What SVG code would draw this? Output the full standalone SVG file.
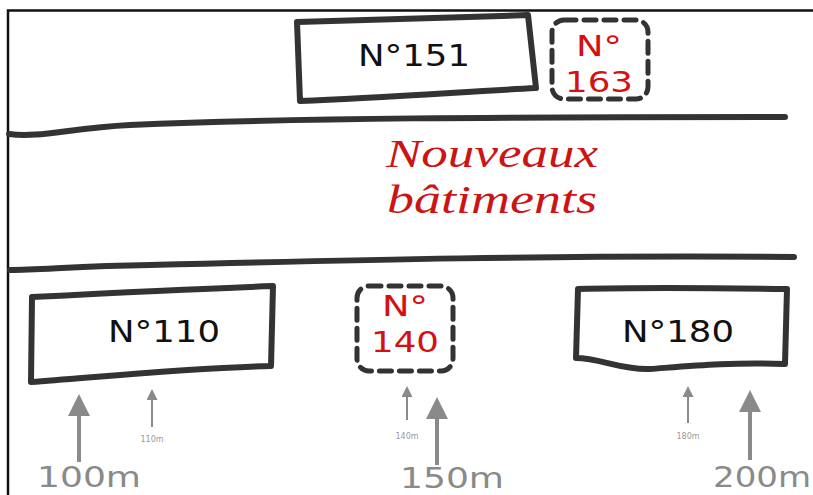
<svg xmlns="http://www.w3.org/2000/svg" width="813" height="495" viewBox="0 0 813 495">
<style>
.bg{fill:#ffffff}
.frame{fill:none;stroke:#111;stroke-width:2.5}
.road{fill:none;stroke:#333;stroke-width:6;stroke-linecap:round;stroke-linejoin:round}
.box{fill:#fff;stroke:#333;stroke-width:6;stroke-linejoin:round;stroke-linecap:round}
.dash{fill:#fff;stroke:#333;stroke-width:5;stroke-dasharray:12 8;stroke-linecap:round}
.lbl{font-family:"DejaVu Sans","Liberation Sans",sans-serif;font-size:30px;fill:#111;text-anchor:middle}
.red{font-family:"DejaVu Sans","Liberation Sans",sans-serif;font-size:29px;fill:#d41010;text-anchor:middle}
.title{font-family:"Liberation Serif","DejaVu Serif",serif;font-style:italic;font-size:40px;fill:#cc1414;text-anchor:middle}
.arr{stroke:#8a8a8a;fill:none}
.big{stroke-width:4}
.small{stroke-width:2}
.dist{font-family:"DejaVu Sans","Liberation Sans",sans-serif;font-size:29px;fill:#8a8a8a}
.tiny{font-family:"DejaVu Sans","Liberation Sans",sans-serif;font-size:8px;fill:#999;text-anchor:middle}
</style>
<defs>
<marker id="head" viewBox="0 0 10 10" refX="0" refY="5" markerWidth="6" markerHeight="5.5" orient="auto" markerUnits="strokeWidth">
<path d="M0,0 L10,5 L0,10 z" fill="#8a8a8a"/>
</marker>
</defs>
<rect class="bg" x="0" y="0" width="813" height="495"/>
<path class="frame" d="M8,500 L8,10.5 L815,10.5"/>

<g id="roads">
<path class="road" d="M9,134 C40,138 70,128 130,125 C300,118 500,117 785,117"/>
<path class="road" d="M10,270 C40,270 80,266 150,265 C350,260 560,255 794,257"/>
</g>

<g id="n151">
<path class="box" d="M297,22 C370,20 450,18 528,15 L536,88 C460,92 380,98 300,101 Z"/>
<text class="lbl" x="414" y="66" textLength="112" lengthAdjust="spacingAndGlyphs">N°151</text>
</g>

<g id="n163">
<rect class="dash" x="552" y="20" width="96" height="79" rx="12"/>
<text class="red" x="599" y="56" textLength="46" lengthAdjust="spacingAndGlyphs">N°</text>
<text class="red" x="599" y="92" textLength="68" lengthAdjust="spacingAndGlyphs">163</text>
</g>

<g id="title">
<text class="title" x="492" y="167" textLength="212" lengthAdjust="spacingAndGlyphs">Nouveaux</text>
<text class="title" x="492" y="213" textLength="210" lengthAdjust="spacingAndGlyphs">bâtiments</text>
</g>

<g id="n110">
<path class="box" d="M32,297 C110,293 190,289 273,286 L271,366 C190,368 110,376 31,382 Z"/>
<text class="lbl" x="164" y="342" textLength="112" lengthAdjust="spacingAndGlyphs">N°110</text>
</g>

<g id="n140">
<rect class="dash" x="357" y="286" width="96" height="85" rx="12"/>
<text class="red" x="405" y="316" textLength="46" lengthAdjust="spacingAndGlyphs">N°</text>
<text class="red" x="405" y="352" textLength="68" lengthAdjust="spacingAndGlyphs">140</text>
</g>

<g id="n180">
<path class="box" d="M578,289 C650,287 720,288 787,289 L785,364 C730,362 690,366 650,369 C620,370 600,358 576,358 Z"/>
<text class="lbl" x="678" y="342" textLength="112" lengthAdjust="spacingAndGlyphs">N°180</text>
</g>

<g id="connectors">
<line class="arr big" x1="79" y1="462" x2="79" y2="416" marker-end="url(#head)"/>
<line class="arr small" x1="152" y1="427" x2="152" y2="400" marker-end="url(#head)"/>
<line class="arr small" x1="407" y1="420" x2="407" y2="397" marker-end="url(#head)"/>
<line class="arr big" x1="437" y1="465" x2="437" y2="419" marker-end="url(#head)"/>
<line class="arr small" x1="688" y1="423" x2="688" y2="397" marker-end="url(#head)"/>
<line class="arr big" x1="750" y1="460" x2="750" y2="412" marker-end="url(#head)"/>
<text class="tiny" x="152" y="442">110m</text>
<text class="tiny" x="407" y="439">140m</text>
<text class="tiny" x="688" y="439">180m</text>
<text class="dist" x="37" y="487" textLength="104" lengthAdjust="spacingAndGlyphs">100m</text>
<text class="dist" x="400" y="488" textLength="104" lengthAdjust="spacingAndGlyphs">150m</text>
<text class="dist" x="713" y="487" textLength="98" lengthAdjust="spacingAndGlyphs">200m</text>
</g>
</svg>
